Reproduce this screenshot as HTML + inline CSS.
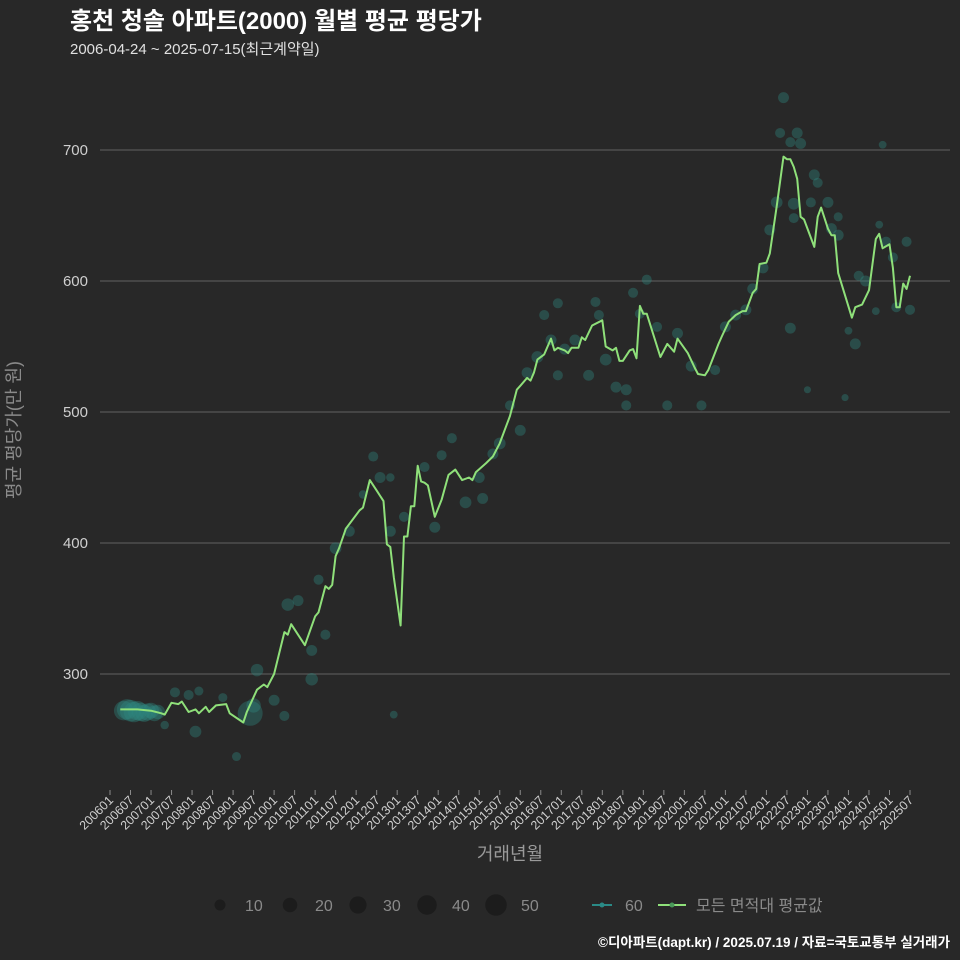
<!DOCTYPE html>
<html><head><meta charset="utf-8">
<style>
html,body{margin:0;padding:0;background:#282828;}
svg{display:block;font-family:"Liberation Sans","Noto Sans CJK KR",sans-serif;}
</style></head>
<body>
<svg id="chart" width="960" height="960" viewBox="0 0 960 960">
<rect width="960" height="960" fill="#282828"/>
<text x="70" y="29" fill="#ffffff" font-size="24" font-weight="bold">홍천 청솔 아파트(2000) 월별 평균 평당가</text>
<text x="70" y="54" fill="#e0e0e0" font-size="15">2006-04-24 ~ 2025-07-15(최근계약일)</text>
<g id="grid"></g>
<g id="yticks"></g>
<g id="xticks"></g>
<g id="dots"></g>
<path id="avgline" fill="none" stroke="#8fe07a" stroke-width="2" stroke-linejoin="round"/>
<text transform="translate(20,430) rotate(-90)" text-anchor="middle" fill="#8a8a8a" font-size="18">평균 평당가(만 원)</text>
<text x="510" y="860" text-anchor="middle" fill="#9a9a9a" font-size="18">거래년월</text>
<g id="legend"></g>
<g>
<line x1="592" y1="905" x2="612" y2="905" stroke="#2a8a86" stroke-width="2"/>
<circle cx="602" cy="905" r="2.5" fill="#2a8a86"/>
<text x="625" y="911" fill="#8a8a8a" font-size="16">60</text>
</g>
<g>
<line x1="658" y1="905" x2="686" y2="905" stroke="#8fe07a" stroke-width="2"/>
<circle cx="672" cy="905" r="2.5" fill="#4a9a5a"/>
<text x="696" y="911" fill="#8a8a8a" font-size="16">모든 면적대 평균값</text>
</g>
<text x="950" y="947" text-anchor="end" fill="#ffffff" font-size="13.5" font-weight="bold">©디아파트(dapt.kr) / 2025.07.19 / 자료=국토교통부 실거래가</text>
</svg>
<script>
// month index: 0 = 2006-01
const lineMonths = [3,8,12,15,16,18,20,21,23,25,26,28,29,31,34,35,39,40,43,45,46,48,51,52,53,57,60,61,63,64,65,66,67,69,73,74,76,78,80,81,82,83,85,86,87,88,89,90,91,92,93,95,97,99,101,103,105,106,107,110,112,114,117,119,120,122,123,124,125,127,129,130,131,133,134,135,137,138,139,141,144,145,147,148,149,150,152,153,154,155,156,157,161,163,165,166,169,171,172,174,175,178,179,181,183,185,186,188,189,190,192,193,195,197,198,199,200,201,202,203,206,207,208,210,211,212,213,217,218,220,222,224,225,226,228,229,230,231,232,233,234];
const lineValues = [273,273,272,270,269,278,277,279,271,273,270,275,271,276,277,270,263,271,288,292,290,300,332,330,338,322,344,347,367,365,368,390,396,411,425,427,448,440,432,399,397,374,337,405,405,428,428,459,447,446,444,420,433,452,456,448,450,448,454,461,466,476,497,517,520,526,524,530,540,544,556,547,549,547,545,549,549,557,555,566,570,550,547,549,539,539,547,548,541,581,575,575,542,552,546,556,545,534,529,528,532,552,558,569,574,577,577,591,594,613,614,621,657,695,693,693,687,678,649,647,626,649,656,640,635,635,606,572,580,582,593,632,636,625,628,610,580,580,598,594,604];
const dotMonths = [4,5,6,7,8,9,10,11,12,13,14,16,19,23,25,26,33,37,41,42,43,48,51,52,55,59,59,61,63,66,70,74,77,79,82,82,83,86,92,95,97,100,104,108,109,112,114,117,120,122,125,127,129,131,131,133,136,140,142,143,145,148,151,151,153,155,157,160,163,166,170,173,177,180,183,186,188,191,193,195,196,197,199,199,200,200,201,202,204,205,206,207,210,211,213,213,215,216,218,219,221,224,225,226,227,229,230,233,234];
const dotValues = [272,273,272,271,272,271,270,271,272,270,271,261,286,284,256,287,282,237,270,276,303,280,268,353,356,296,318,372,330,396,409,437,466,450,409,450,269,420,458,412,467,480,431,450,434,468,476,505,486,530,542,574,555,583,528,548,555,528,584,574,540,519,517,505,591,575,601,565,505,560,535,505,532,565,574,578,594,610,639,660,713,740,706,564,659,648,713,705,517,660,681,675,660,640,649,635,511,562,552,604,600,577,643,704,630,618,580,630,578];
const dotCounts = [40,45,50,45,40,35,30,30,25,25,20,5,8,8,12,6,6,6,70,20,14,10,8,14,10,14,10,8,8,12,10,5,8,10,10,5,4,8,8,10,8,8,12,10,10,10,12,8,10,10,12,8,10,8,8,10,10,10,8,8,12,10,10,8,8,8,8,8,8,10,10,8,8,10,10,10,10,10,10,12,8,10,8,10,12,8,10,10,3,8,10,8,10,10,6,10,3,4,10,8,10,4,4,4,8,8,8,8,8];
const yTicks = [300,400,500,600,700];
const legendCounts = [10,20,30,40,50];

const X0 = 110, XPM = 800/234;
function xScale(m){ return X0 + m*XPM; }
function yScale(v){ return 150 + (700 - v)*1.31; }
function rScale(c){ return 1.35*Math.sqrt(c) + 1.2; }
const NS = "http://www.w3.org/2000/svg";
function mk(tag, attrs, parent){ const e = document.createElementNS(NS, tag); for (const k in attrs) e.setAttribute(k, attrs[k]); parent.appendChild(e); return e; }

const grid = document.getElementById('grid'), yt = document.getElementById('yticks');
yTicks.forEach(v => {
  const l = mk('line', {x1:100, x2:950, y1:yScale(v), y2:yScale(v), stroke:'#626262', 'stroke-width':1}, grid);
  
  
  const t = mk('text', {x:88, y:yScale(v)+5, 'text-anchor':'end', fill:'#cfcfcf', 'font-size':15}, yt);
  t.textContent = v;
  
  
});

const xt = document.getElementById('xticks');
for (let m = 0; m <= 234; m += 6) {
  const yr = 2006 + Math.floor(m/12), mo = (m%12)+1;
  const lab = yr + (mo < 10 ? '0' : '') + mo;
  const x = xScale(m);
  const tk = mk('line', {x1:x, x2:x, y1:790, y2:795, stroke:'#8a8a8a', 'stroke-width':1}, xt);
  
  
  const t = mk('text', {x:x+4, y:801, 'text-anchor':'end', fill:'#d0d0d0', 'font-size':12.5, transform:'rotate(-45 '+(x+4)+' 801)'}, xt);
  t.textContent = lab;
  
  
}

const dg = document.getElementById('dots');
dotMonths.forEach((m, i) => {
  const c = mk('circle', {cx:xScale(m), cy:yScale(dotValues[i]), r:rScale(dotCounts[i]), fill:'#2f8a82', 'fill-opacity':0.38}, dg);
  
  
});

let d = '';
lineMonths.forEach((m, i) => { d += (i ? 'L' : 'M') + xScale(m).toFixed(1) + ' ' + yScale(lineValues[i]).toFixed(1); });
document.getElementById('avgline').setAttribute('d', d);

const lg = document.getElementById('legend');
const lgX = [220,290,358,427,496];
legendCounts.forEach((c, i) => {
  const ci = mk('circle', {cx:lgX[i], cy:905, r:rScale(c), fill:'#1c1c1c'}, lg);
  
  
  const t = mk('text', {x:lgX[i]+25, y:911, fill:'#8a8a8a', 'font-size':16}, lg);
  t.textContent = c;
  
  
});
</script>
</body></html>
